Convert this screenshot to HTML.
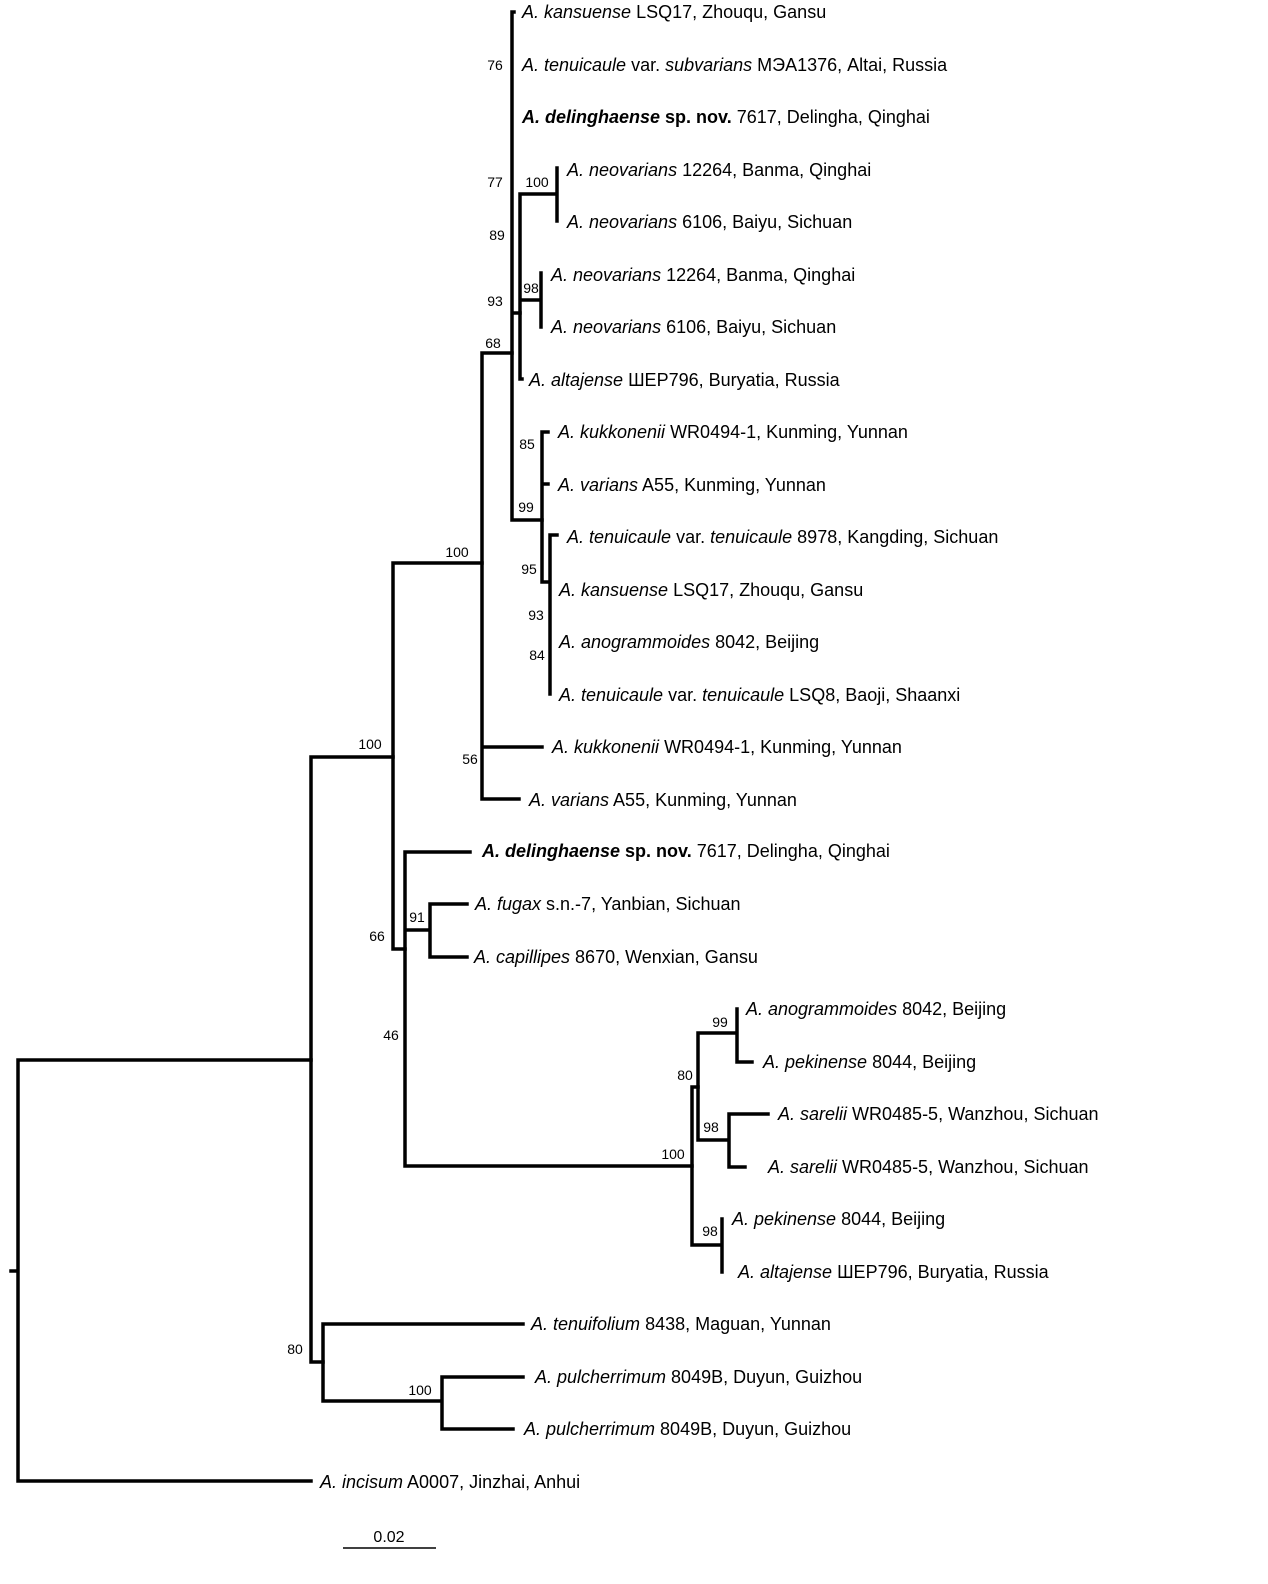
<!DOCTYPE html>
<html><head><meta charset="utf-8"><style>
html,body{margin:0;padding:0;background:#fff;}
svg{display:block;}
.t{font-family:"Liberation Sans",Arial,sans-serif;font-size:18px;fill:#000;}
.b{font-family:"Liberation Sans",Arial,sans-serif;font-size:14px;fill:#000;text-anchor:middle;}
</style></head><body>
<svg width="1268" height="1584" viewBox="0 0 1268 1584" xmlns="http://www.w3.org/2000/svg">
<g stroke="#000" stroke-width="3.5" fill="none" stroke-linecap="square">
<path d="M18 1060 V1481 M18 1060 H311 M18 1481 H311 M11 1271 H18"/>
<path d="M311 757 V1362 M311 757 H393 M311 1362 H323"/>
<path d="M323 1324 V1401 M323 1324 H523 M323 1401 H442 M442 1377 V1429 M442 1377 H523 M442 1429 H513"/>
<path d="M393 563 V949 M393 563 H482 M393 949 H405"/>
<path d="M482 353 V799 M482 353 H512 M482 747 H542 M482 799 H519"/>
<path d="M512 12 V520 M512 12 H514 M512 313 H520 M512 520 H542"/>
<path d="M520 194 V379 M520 194 H557 M557 168 V221 M520 300 H541 M541 273 V327 M520 379 H522"/>
<path d="M542 432 V582 M542 432 H548 M542 484 H548 M542 582 H550 M550 535 V694 M550 535 H557"/>
<path d="M405 852 V1166 M405 852 H470 M405 930 H430 M430 904 V957 M430 904 H467 M430 957 H467 M405 1166 H692"/>
<path d="M692 1087 V1245 M692 1087 H698 M692 1245 H722 M722 1219 V1272"/>
<path d="M698 1033 V1140 M698 1033 H737 M737 1009 V1062 M737 1062 H752 M698 1140 H729 M729 1114 V1167 M729 1114 H768 M729 1167 H745"/>
</g>
<line x1="343" y1="1548" x2="436" y2="1548" stroke="#000" stroke-width="1.6"/>
<text class="b" x="389" y="1542" style="font-size:16px">0.02</text>
<g class="t" dominant-baseline="central">
<text x="522" y="12"><tspan font-style="italic">A. kansuense</tspan> LSQ17, Zhouqu, Gansu</text>
<text x="522" y="65"><tspan font-style="italic">A. tenuicaule</tspan> var. <tspan font-style="italic">subvarians</tspan> МЭА1376, Altai, Russia</text>
<text x="522" y="117" font-weight="bold"><tspan font-style="italic">A. delinghaense</tspan> sp. nov.<tspan font-weight="normal"> 7617, Delingha, Qinghai</tspan></text>
<text x="567" y="170"><tspan font-style="italic">A. neovarians</tspan> 12264, Banma, Qinghai</text>
<text x="567" y="222"><tspan font-style="italic">A. neovarians</tspan> 6106, Baiyu, Sichuan</text>
<text x="551" y="275"><tspan font-style="italic">A. neovarians</tspan> 12264, Banma, Qinghai</text>
<text x="551" y="327"><tspan font-style="italic">A. neovarians</tspan> 6106, Baiyu, Sichuan</text>
<text x="529" y="380"><tspan font-style="italic">A. altajense</tspan> ШЕР796, Buryatia, Russia</text>
<text x="558" y="432"><tspan font-style="italic">A. kukkonenii</tspan> WR0494-1, Kunming, Yunnan</text>
<text x="558" y="485"><tspan font-style="italic">A. varians</tspan> A55, Kunming, Yunnan</text>
<text x="567" y="537"><tspan font-style="italic">A. tenuicaule</tspan> var. <tspan font-style="italic">tenuicaule</tspan> 8978, Kangding, Sichuan</text>
<text x="559" y="590"><tspan font-style="italic">A. kansuense</tspan> LSQ17, Zhouqu, Gansu</text>
<text x="559" y="642"><tspan font-style="italic">A. anogrammoides</tspan> 8042, Beijing</text>
<text x="559" y="695"><tspan font-style="italic">A. tenuicaule</tspan> var. <tspan font-style="italic">tenuicaule</tspan> LSQ8, Baoji, Shaanxi</text>
<text x="552" y="747"><tspan font-style="italic">A. kukkonenii</tspan> WR0494-1, Kunming, Yunnan</text>
<text x="529" y="800"><tspan font-style="italic">A. varians</tspan> A55, Kunming, Yunnan</text>
<text x="482" y="851" font-weight="bold"><tspan font-style="italic">A. delinghaense</tspan> sp. nov.<tspan font-weight="normal"> 7617, Delingha, Qinghai</tspan></text>
<text x="475" y="904"><tspan font-style="italic">A. fugax</tspan> s.n.-7, Yanbian, Sichuan</text>
<text x="474" y="957"><tspan font-style="italic">A. capillipes</tspan> 8670, Wenxian, Gansu</text>
<text x="746" y="1009"><tspan font-style="italic">A. anogrammoides</tspan> 8042, Beijing</text>
<text x="763" y="1062"><tspan font-style="italic">A. pekinense</tspan> 8044, Beijing</text>
<text x="778" y="1114"><tspan font-style="italic">A. sarelii</tspan> WR0485-5, Wanzhou, Sichuan</text>
<text x="768" y="1167"><tspan font-style="italic">A.  sarelii</tspan> WR0485-5, Wanzhou, Sichuan</text>
<text x="732" y="1219"><tspan font-style="italic">A. pekinense</tspan> 8044, Beijing</text>
<text x="738" y="1272"><tspan font-style="italic">A. altajense</tspan> ШЕР796, Buryatia, Russia</text>
<text x="531" y="1324"><tspan font-style="italic">A. tenuifolium</tspan> 8438, Maguan, Yunnan</text>
<text x="535" y="1377"><tspan font-style="italic">A. pulcherrimum</tspan> 8049B, Duyun, Guizhou</text>
<text x="524" y="1429"><tspan font-style="italic">A. pulcherrimum</tspan> 8049B, Duyun, Guizhou</text>
<text x="320" y="1482"><tspan font-style="italic">A. incisum</tspan> A0007, Jinzhai, Anhui</text>
</g>
<g class="b" dominant-baseline="central">
<text x="495" y="65">76</text>
<text x="495" y="182">77</text>
<text x="537" y="182">100</text>
<text x="497" y="235">89</text>
<text x="531" y="288">98</text>
<text x="495" y="301">93</text>
<text x="493" y="343">68</text>
<text x="527" y="444">85</text>
<text x="526" y="507">99</text>
<text x="529" y="569">95</text>
<text x="536" y="615">93</text>
<text x="537" y="655">84</text>
<text x="457" y="552">100</text>
<text x="470" y="759">56</text>
<text x="370" y="744">100</text>
<text x="377" y="936">66</text>
<text x="417" y="917">91</text>
<text x="391" y="1035">46</text>
<text x="720" y="1022">99</text>
<text x="685" y="1075">80</text>
<text x="711" y="1127">98</text>
<text x="673" y="1154">100</text>
<text x="710" y="1231">98</text>
<text x="295" y="1349">80</text>
<text x="420" y="1390">100</text>
</g>
</svg>
</body></html>
